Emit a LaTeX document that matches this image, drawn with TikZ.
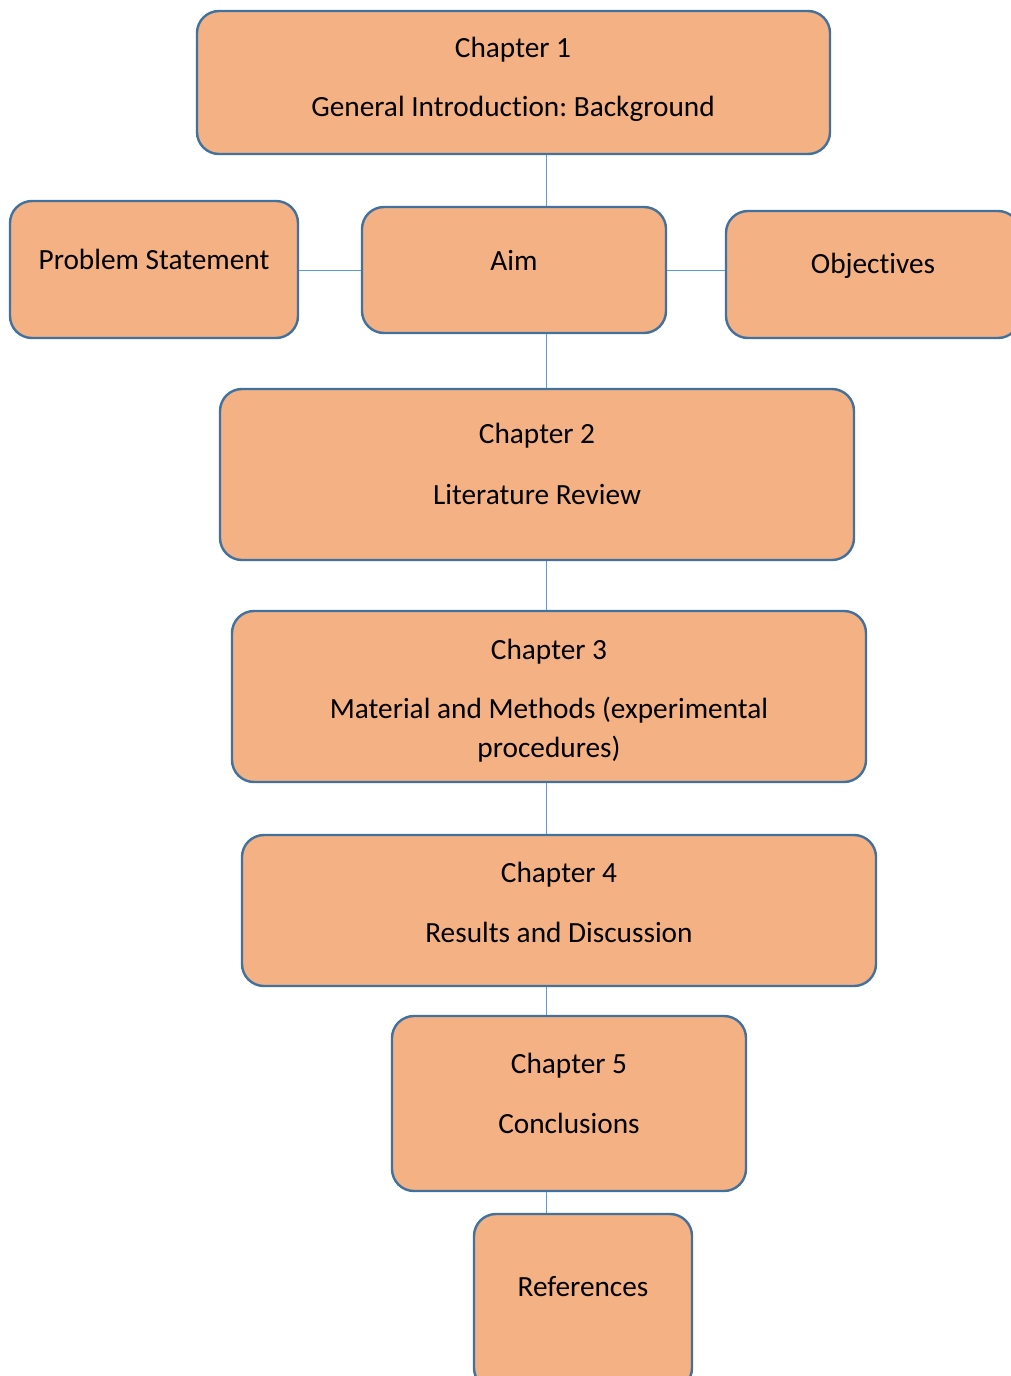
\documentclass[tikz,border=0pt]{standalone}
\usepackage{fontspec}
\setmainfont{Carlito}[Ligatures=NoCommon]
\frenchspacing
\definecolor{boxfill}{HTML}{F4B183}
\definecolor{boxline}{HTML}{41719C}
\definecolor{conn}{HTML}{5B9BD5}
\begin{document}
\begin{tikzpicture}[x=1pt,y=-1pt,
  box/.style={draw=boxline,fill=boxfill,line width=2.4pt,rounded corners=22pt},
  txt/.style={anchor=base,inner sep=0pt,font=\fontsize{29.3}{35}\selectfont},
  conline/.style={draw=conn,line width=1pt}]
\useasboundingbox (0,0) rectangle (1011,1376);
\clip (0,0) rectangle (1011,1376);
% boxes
\node[box,minimum width=633pt,minimum height=143pt,inner sep=0pt] (c1) at (513.5,82.5) {};
\node[box,minimum width=288pt,minimum height=137pt,inner sep=0pt] (ps) at (154,269.5) {};
\node[box,minimum width=304pt,minimum height=126pt,inner sep=0pt] (aim) at (514,270) {};
\node[box,minimum width=294pt,minimum height=127pt,inner sep=0pt] (obj) at (873,274.5) {};
\node[box,minimum width=634pt,minimum height=171pt,inner sep=0pt] (c2) at (537,474.5) {};
\node[box,minimum width=634pt,minimum height=171pt,inner sep=0pt] (c3) at (549,696.5) {};
\node[box,minimum width=634pt,minimum height=151pt,inner sep=0pt] (c4) at (559,910.5) {};
\node[box,minimum width=354pt,minimum height=175pt,inner sep=0pt] (c5) at (569,1103.5) {};
\node[box,minimum width=218pt,minimum height=176pt,inner sep=0pt] (ref) at (583,1302) {};
% connectors
\coordinate (x) at (546,0);
\draw[conline] (c1.south -| x) -- (aim.north -| x);
\draw[conline] (aim.south -| x) -- (c2.north -| x);
\draw[conline] (c2.south -| x) -- (c3.north -| x);
\draw[conline] (c3.south -| x) -- (c4.north -| x);
\draw[conline] (c4.south -| x) -- (c5.north -| x);
\draw[conline] (c5.south -| x) -- (ref.north -| x);
\coordinate (hy) at (0,270);
\draw[conline] (ps.east |- hy) -- (aim.west |- hy);
\draw[conline] (aim.east |- hy) -- (obj.west |- hy);
% texts
\node[txt] (t1a) at (513,57) {Chapter 1};
\node[txt] (t1b) at (513,116) {General Introduction: Background};
\node[txt] (tps) at (154,269) {Problem Statement};
\node[txt] (taim) at (514,270) {Aim};
\node[txt] (tobj) at (873,273) {Objectives};
\node[txt] (t2a) at (537,443) {Chapter 2};
\node[txt] (t2b) at (537,504) {Literature Review};
\node[txt] (t3a) at (549,659) {Chapter 3};
\node[txt] (t3b) at (549,718) {Material and Methods (experimental};
\node[txt] (t3c) at (549,757) {procedures)};
\node[txt] (t4a) at (559,882) {Chapter 4};
\node[txt] (t4b) at (559,942) {Results and Discussion};
\node[txt] (t5a) at (569,1073) {Chapter 5};
\node[txt] (t5b) at (569,1133) {Conclusions};
\node[txt] (tref) at (583,1296) {References};
\end{tikzpicture}
\end{document}
